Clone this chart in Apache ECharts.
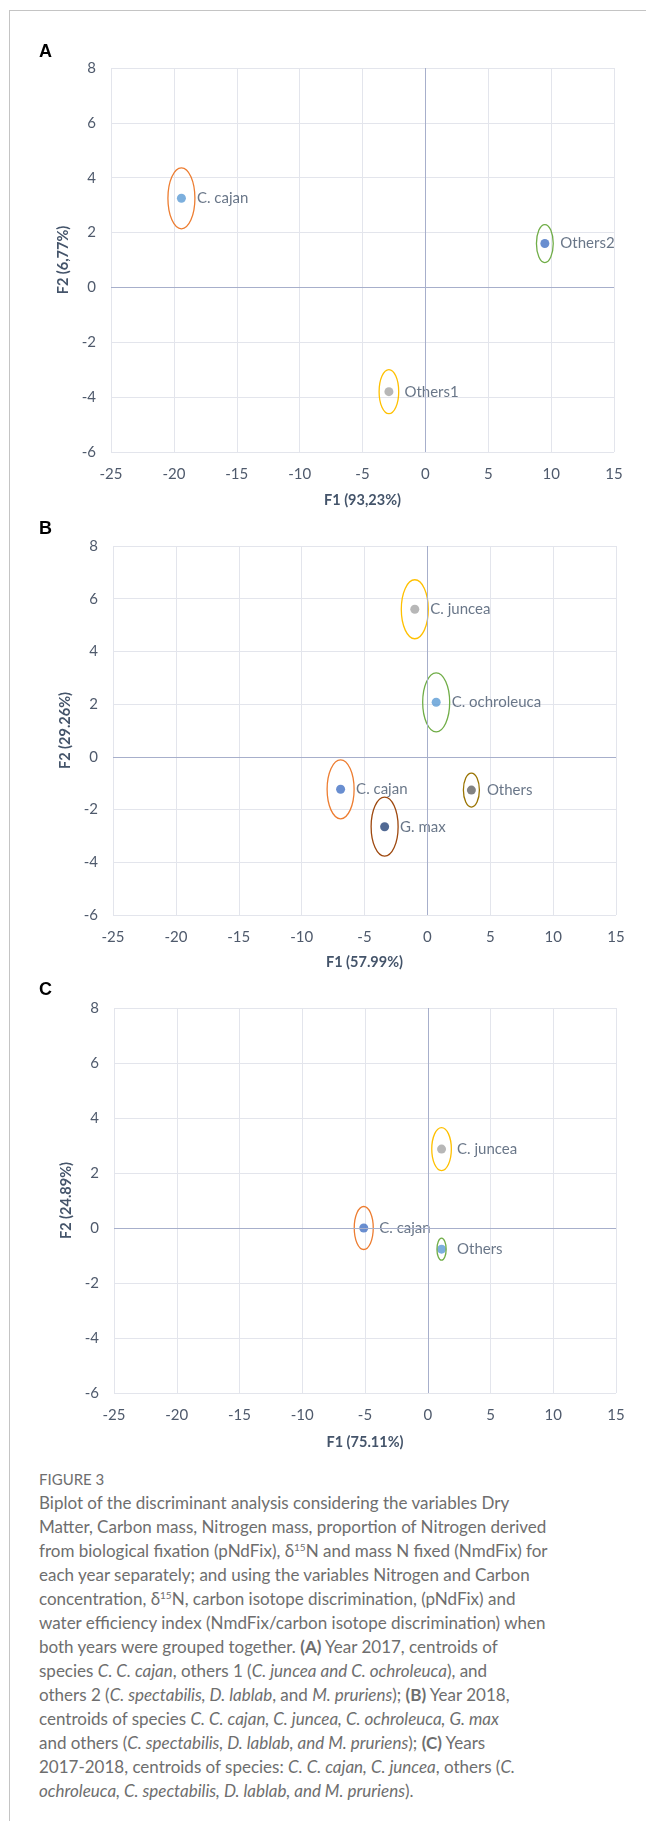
<!DOCTYPE html>
<html>
<head>
<meta charset="utf-8">
<script src="https://cdn.jsdelivr.net/npm/echarts@6/dist/echarts.min.js"></script>
<style>
  html, body { margin: 0; padding: 0; background: #fff; }
  body { width: 646px; height: 1821px; position: relative; overflow: hidden; }
  #frame { position: absolute; left: 9px; top: 10px; width: 700px; height: 1900px;
           border-left: 1px solid #c4c4c4; border-top: 1px solid #c4c4c4; }
  #chart { position: absolute; left: 0; top: 0; width: 646px; height: 1460px; }
  #caption { position: absolute; left: 39px; top: 1467px; width: 600px;
             font-family: Lato, "Open Sans", sans-serif; color: #6e6e6e; white-space: nowrap; }
  #caption .fig { font-size: 15px; line-height: 24px; }
  #caption .body { font-size: 17px; line-height: 24px; }
  #caption sup { font-size: 10px; line-height: 0; vertical-align: 6px; }
</style>
</head>
<body>
<div id="frame"></div>
<div id="chart"></div>
<div id="caption">
  <div class="fig">FIGURE 3</div>
  <div class="body">
    Biplot of the discriminant analysis considering the variables Dry<br>
    Matter, Carbon mass, Nitrogen mass, proportion of Nitrogen derived<br>
    from biological fixation (pNdFix), δ<sup>15</sup>N and mass N fixed (NmdFix) for<br>
    each year separately; and using the variables Nitrogen and Carbon<br>
    concentration, δ<sup>15</sup>N, carbon isotope discrimination, (pNdFix) and<br>
    water efficiency index (NmdFix/carbon isotope discrimination) when<br>
    both years were grouped together. <b>(A)</b> Year 2017, centroids of<br>
    species <i>C. C. cajan</i>, others 1 (<i>C. juncea and C. ochroleuca</i>), and<br>
    others 2 (<i>C. spectabilis, D. lablab</i>, and <i>M. pruriens</i>); <b>(B)</b> Year 2018,<br>
    centroids of species <i>C. C. cajan, C. juncea, C. ochroleuca, G. max</i><br>
    and others (<i>C. spectabilis, D. lablab, and M. pruriens</i>); <b>(C)</b> Years<br>
    2017-2018, centroids of species: <i>C. C. cajan, C. juncea</i>, others (<i>C.</i><br>
    <i>ochroleuca, C. spectabilis, D. lablab, and M. pruriens</i>).
  </div>
</div>
<script>
// ---- Discriminant-analysis centroids (F1, F2) ----
// (A) Year 2017
const namesA = ['C. cajan', 'Others1', 'Others2'];
const f1A = [-19.4, -2.9, 9.5];
const f2A = [3.25, -3.8, 1.6];
// (B) Year 2018
const namesB = ['C. juncea', 'C. ochroleuca', 'C. cajan', 'G. max', 'Others'];
const f1B = [-1.0, 0.7, -6.9, -3.4, 3.5];
const f2B = [5.6, 2.07, -1.23, -2.65, -1.26];
// (C) Years 2017-2018
const namesC = ['C. juncea', 'C. cajan', 'Others'];
const f1C = [1.1, -5.1, 1.1];
const f2C = [2.87, 0.0, -0.77];

// Axis titles (explained variance)
const xTitles = ['F1 (93,23%)', 'F1 (57.99%)', 'F1 (75.11%)'];
const yTitles = ['F2 (6,77%)', 'F2 (29.26%)', 'F2 (24.89%)'];
const panelLetters = ['A', 'B', 'C'];

// Axis ranges
const xMin = -25, xMax = 15, xStep = 5;
const yMin = -6, yMax = 8, yStep = 2;

// ---- Styling ----
const pointColors = [
  ['#5B9BD5', '#A5A5A5', '#4472C4'],
  ['#A5A5A5', '#5B9BD5', '#4472C4', '#264478', '#636363'],
  ['#A5A5A5', '#4472C4', '#5B9BD5']
];
const ringColors = [
  ['#ED7D31', '#FFC000', '#70AD47'],
  ['#FFC000', '#70AD47', '#ED7D31', '#9E480E', '#997300'],
  ['#FFC000', '#ED7D31', '#70AD47']
];
// ellipse half-width / half-height in pixels
const ringRadii = [
  [[13.5, 30.5], [9.8, 22], [8.4, 19]],
  [[13.5, 29.5], [13.5, 29.5], [13.5, 29.5], [13.5, 29.5], [8, 17]],
  [[9.8, 21.5], [9.5, 21.5], [4.6, 11]]
];
const grids = [
  { left: 111, top: 68, width: 503, height: 384, nameGap: 41, yNameGap: 36 },
  { left: 113, top: 546, width: 503, height: 369, nameGap: 40, yNameGap: 35 },
  { left: 114, top: 1008, width: 502, height: 385, nameGap: 42, yNameGap: 36 }
];
const letterPos = [[45, 53], [45, 530], [45, 991]];

const fontFam = 'Lato, "Open Sans", sans-serif';
const tickColor = '#4f5a6c';
const titleColor = '#44546A';
const gridColor = '#e3e5ec';
const zeroColor = '#a7afcb';

const panels = [
  { names: namesA, f1: f1A, f2: f2A },
  { names: namesB, f1: f1B, f2: f2B },
  { names: namesC, f1: f1C, f2: f2C }
];

const chart = echarts.init(document.getElementById('chart'), null, { renderer: 'canvas' });

const option = {
  animation: false,
  grid: grids.map(g => ({ left: g.left, top: g.top, width: g.width, height: g.height, containLabel: false })),
  xAxis: grids.map((g, i) => ({
    type: 'value', gridIndex: i, min: xMin, max: xMax, interval: xStep,
    name: xTitles[i], nameLocation: 'middle', nameGap: g.nameGap,
    nameTextStyle: { fontFamily: fontFam, fontSize: 14.5, fontWeight: 'bold', color: titleColor },
    axisLine: { show: false }, axisTick: { show: false },
    axisLabel: { fontFamily: fontFam, fontSize: 15, color: tickColor, margin: 15 },
    splitLine: { show: true, lineStyle: { color: gridColor, width: 1 } }
  })),
  yAxis: grids.map((g, i) => ({
    type: 'value', gridIndex: i, min: yMin, max: yMax, interval: yStep,
    name: yTitles[i], nameLocation: 'middle', nameGap: g.yNameGap,
    nameTextStyle: { fontFamily: fontFam, fontSize: 14.5, fontWeight: 'bold', color: titleColor },
    axisLine: { show: false }, axisTick: { show: false },
    axisLabel: { fontFamily: fontFam, fontSize: 15, color: tickColor, margin: 15 },
    splitLine: { show: true, lineStyle: { color: gridColor, width: 1 } }
  })),
  graphic: panelLetters.map((t, i) => ({
    type: 'text', left: letterPos[i][0] - 6, top: letterPos[i][1] - 10,
    style: { text: t, font: 'bold 18px "Liberation Sans", Arial, sans-serif', fill: '#000' }
  })),
  series: []
};

panels.forEach((p, i) => {
  // zero reference lines, kept beneath the markers and their labels
  option.series.push({
    type: 'line', xAxisIndex: i, yAxisIndex: i, z: 1, data: [], silent: true,
    markLine: {
      silent: true, symbol: 'none', label: { show: false },
      lineStyle: { color: zeroColor, width: 1, type: 'solid' },
      data: [{ xAxis: 0 }, { yAxis: 0 }]
    }
  });
  // centroid markers with labels
  option.series.push({
    type: 'scatter', xAxisIndex: i, yAxisIndex: i, symbolSize: 9, z: 3,
    data: p.names.map((n, k) => ({
      name: n, value: [p.f1[k], p.f2[k]], itemStyle: { color: pointColors[i][k] }
    })),
    label: {
      show: true, position: 'right', distance: 11, formatter: '{b}',
      fontFamily: fontFam, fontSize: 15, color: titleColor
    }
  });
  // confidence ellipses around each centroid
  option.series.push({
    type: 'custom', xAxisIndex: i, yAxisIndex: i, z: 4, silent: true,
    data: p.names.map((n, k) => [p.f1[k], p.f2[k]]),
    renderItem: (params, api) => {
      const c = api.coord([api.value(0), api.value(1)]);
      const r = ringRadii[i][params.dataIndex];
      const rx = r[0], ry = r[1];
      const d = `M ${c[0] - rx} ${c[1]} A ${rx} ${ry} 0 1 0 ${c[0] + rx} ${c[1]} A ${rx} ${ry} 0 1 0 ${c[0] - rx} ${c[1]} Z`;
      return {
        type: 'path', shape: { pathData: d },
        style: { fill: 'none', stroke: ringColors[i][params.dataIndex], lineWidth: 1.3 }
      };
    }
  });
});

chart.setOption(option);
</script>
</body>
</html>
